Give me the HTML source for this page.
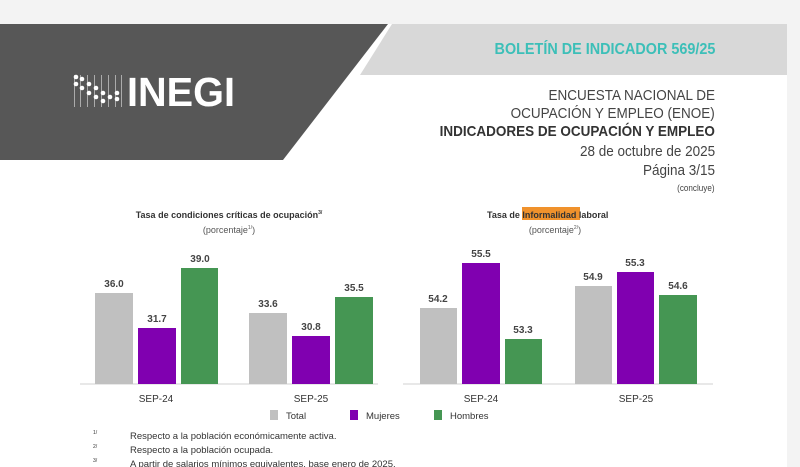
<!DOCTYPE html>
<html><head><meta charset="utf-8"><style>
body{margin:0;width:800px;height:467px;overflow:hidden;background:#fff;font-family:"Liberation Sans",sans-serif;position:relative}
.abs{position:absolute}
.r{position:absolute;right:85px;text-align:right;white-space:nowrap;color:#444;font-size:15px;transform:scaleX(.9);transform-origin:right}
</style></head><body>
<div class="abs" style="left:0;top:0;width:800px;height:24px;background:#f3f3f3"></div>
<div class="abs" style="left:787px;top:0;width:13px;height:467px;background:#f3f3f3"></div>
<svg class="abs" style="left:0;top:0" width="800" height="200">
<polygon points="392,24 787,24 787,75 360,75" fill="#d8d8d8"/>
<polygon points="0,24 388,24 283,160 0,160" fill="#575757"/>
<g fill="#fff">
<circle cx="76" cy="77" r="2.3"/><circle cx="76" cy="84" r="2.3"/><circle cx="82" cy="79" r="2.3"/><circle cx="82" cy="88" r="2.3"/><circle cx="89" cy="84" r="2.3"/><circle cx="89" cy="93" r="2.3"/><circle cx="96" cy="88" r="2.3"/><circle cx="96" cy="97" r="2.3"/><circle cx="103" cy="93" r="2.3"/><circle cx="103" cy="101" r="2.3"/><circle cx="110" cy="97" r="2.3"/><circle cx="117" cy="99" r="2.3"/><circle cx="117" cy="93" r="2.3"/>
<rect x="74" y="75" width="1" height="32" opacity=".5"/><rect x="80" y="75" width="1" height="32" opacity=".5"/><rect x="87" y="75" width="1" height="32" opacity=".5"/><rect x="94" y="75" width="1" height="32" opacity=".5"/><rect x="101" y="75" width="1" height="32" opacity=".5"/><rect x="108" y="75" width="1" height="32" opacity=".5"/><rect x="115" y="75" width="1" height="32" opacity=".5"/><rect x="121" y="75" width="1" height="32" opacity=".5"/>
</g>
<text x="127" y="106" fill="#fff" font-family="Liberation Sans" font-weight="bold" font-size="41" textLength="108" lengthAdjust="spacingAndGlyphs">INEGI</text>
</svg>
<div class="r" style="top:41px;color:#3cbfb8;font-weight:bold;font-size:16px">BOLETÍN DE INDICADOR 569/25</div>
<div class="r" style="top:87px">ENCUESTA NACIONAL DE</div>
<div class="r" style="top:105px">OCUPACIÓN Y EMPLEO (ENOE)</div>
<div class="r" style="top:123px;font-weight:bold;color:#333">INDICADORES DE OCUPACIÓN Y EMPLEO</div>
<div class="r" style="top:143px">28 de octubre de 2025</div>
<div class="r" style="top:162px">Página 3/15</div>
<div class="r" style="top:183px;font-size:9px">(concluye)</div>
<svg class="abs" style="left:0;top:200px" width="800" height="267" font-family="Liberation Sans">
<g font-size="9" fill="#333" text-anchor="middle">
<text x="229" y="18" font-weight="bold">Tasa de condiciones críticas de ocupación<tspan font-size="5" dy="-4">3/</tspan></text>
<text x="229" y="33" fill="#555">(porcentaje<tspan font-size="5" dy="-4">1/</tspan><tspan dy="4">)</tspan></text>
<rect x="522" y="7" width="58" height="13" fill="#f0922c"/>
<text x="487" y="18" font-weight="bold" text-anchor="start">Tasa de <tspan>Informalidad</tspan> laboral</text>
<text x="555" y="33" fill="#555">(porcentaje<tspan font-size="5" dy="-4">2/</tspan><tspan dy="4">)</tspan></text>
</g>
<g stroke="#d0d0d0"><line x1="80" y1="184" x2="378" y2="184"/><line x1="403" y1="184" x2="713" y2="184"/></g>
<rect x="95" y="93" width="38" height="91" fill="#c0c0c0"/>
<rect x="138" y="128" width="38" height="56" fill="#8000b0"/>
<rect x="181" y="68" width="37" height="116" fill="#459653"/>
<rect x="249" y="113" width="38" height="71" fill="#c0c0c0"/>
<rect x="292" y="136" width="38" height="48" fill="#8000b0"/>
<rect x="335" y="97" width="38" height="87" fill="#459653"/>
<rect x="420" y="108" width="37" height="76" fill="#c0c0c0"/>
<rect x="462" y="63" width="38" height="121" fill="#8000b0"/>
<rect x="505" y="139" width="37" height="45" fill="#459653"/>
<rect x="575" y="86" width="37" height="98" fill="#c0c0c0"/>
<rect x="617" y="72" width="37" height="112" fill="#8000b0"/>
<rect x="659" y="95" width="38" height="89" fill="#459653"/>
<g font-size="10" font-weight="bold" fill="#444" text-anchor="middle">
<text x="114" y="87">36.0</text><text x="157" y="122">31.7</text><text x="200" y="62">39.0</text>
<text x="268" y="107">33.6</text><text x="311" y="130">30.8</text><text x="354" y="91">35.5</text>
<text x="438" y="102">54.2</text><text x="481" y="57">55.5</text><text x="523" y="133">53.3</text>
<text x="593" y="80">54.9</text><text x="635" y="66">55.3</text><text x="678" y="89">54.6</text>
</g>
<g font-size="10" fill="#333" text-anchor="middle">
<text x="156" y="202">SEP-24</text><text x="311" y="202">SEP-25</text>
<text x="481" y="202">SEP-24</text><text x="636" y="202">SEP-25</text>
</g>
<rect x="270" y="210" width="8" height="10" fill="#c0c0c0"/><text x="286" y="219" font-size="9.5" fill="#333">Total</text>
<rect x="350" y="210" width="8" height="10" fill="#8000b0"/><text x="366" y="219" font-size="9.5" fill="#333">Mujeres</text>
<rect x="434" y="210" width="8" height="10" fill="#459653"/><text x="450" y="219" font-size="9.5" fill="#333">Hombres</text>
<g font-size="9.5" fill="#333">
<text x="93" y="234" font-size="5">1/</text><text x="130" y="239">Respecto a la población económicamente activa.</text>
<text x="93" y="248" font-size="5">2/</text><text x="130" y="253">Respecto a la población ocupada.</text>
<text x="93" y="262" font-size="5">3/</text><text x="130" y="267">A partir de salarios mínimos equivalentes, base enero de 2025.</text>
</g>
</svg>
</body></html>
